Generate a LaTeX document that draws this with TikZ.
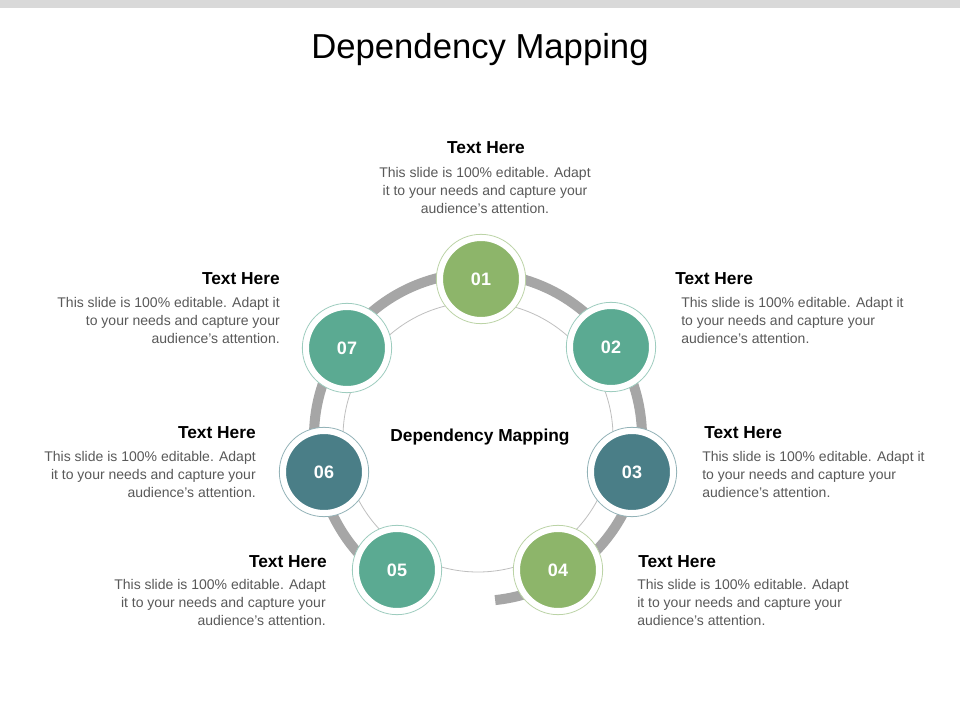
\documentclass[tikz,border=0pt]{standalone}
\usepackage{fontspec}
\setmainfont{Liberation Sans}
\usetikzlibrary{arrows.meta}
\definecolor{cg}{HTML}{8DB56A}
\definecolor{ct}{HTML}{5BAA92}
\definecolor{cd}{HTML}{4A7E87}
\definecolor{ring}{HTML}{A6A6A6}
\definecolor{bodyc}{HTML}{595959}
\tikzset{
 x=0.75pt,y=-0.75pt,
 num/.style={circle,minimum size=60pt,fill=#1,draw=white,line width=3pt,text=white,font=\bfseries\fontsize{13.5}{15}\selectfont},
 halo/.style={circle,minimum size=67pt,draw=#1,line width=0.6pt,fill=white},
 head/.style={font=\bfseries\fontsize{13}{15}\selectfont,inner sep=0pt},
 body/.style={font=\fontsize{10.5}{13.5}\selectfont,text=bodyc,inner sep=0pt}
}
\begin{document}
\begin{tikzpicture}
\fill[white] (0,0) rectangle (960,720);
\fill[black!15] (0,0) rectangle (960,8);
\node[font=\fontsize{26}{30}\selectfont,inner sep=0pt] (title) at (480,50) {Dependency Mapping};
\coordinate (c) at (478,437);
% thin inner circle
\draw[black!25,line width=0.6pt] (c) circle[radius=135];
% ring arrow
\draw[ring,line width=7.5pt,-{Triangle[length=20pt,width=24pt]}] (c) ++(84:164) arc[start angle=84,end angle=-243,radius=164];
\node[font=\bfseries\fontsize{13}{15}\selectfont] (center) at (480,437) {Dependency Mapping};
% circles
\foreach \n/\x/\y/\col in {01/481/279/cg,02/611/347/ct,03/632/472/cd,04/558/570/cg,05/397/570/ct,06/324/472/cd,07/347/348/ct}{
  \node[halo=\col!60] (h\n) at (\x,\y) {};
  \node[num=\col] (n\n) at (\x,\y) {\n};
}
% texts
\node[head] (t1) at (486,148) {Text Here};
\node[body,align=center,anchor=north] (b1) at (485,167) {This slide is 100\% editable. Adapt\\it to your needs and capture your\\audience's attention.};
\node[head,anchor=west] (t2) at (675,279) {Text Here};
\node[body,align=left,anchor=north west] (b2) at (681,297) {This slide is 100\% editable. Adapt it\\to your needs and capture your\\audience's attention.};
\node[head,anchor=west] (t3) at (704,433) {Text Here};
\node[body,align=left,anchor=north west] (b3) at (702,451) {This slide is 100\% editable. Adapt it\\to your needs and capture your\\audience's attention.};
\node[head,anchor=west] (t4) at (638,562) {Text Here};
\node[body,align=left,anchor=north west] (b4) at (637,579) {This slide is 100\% editable. Adapt\\it to your needs and capture your\\audience's attention.};
\node[head,anchor=east] (t5) at (327,562) {Text Here};
\node[body,align=right,anchor=north east] (b5) at (326,579) {This slide is 100\% editable. Adapt\\it to your needs and capture your\\audience's attention.};
\node[head,anchor=east] (t6) at (256,433) {Text Here};
\node[body,align=right,anchor=north east] (b6) at (256,451) {This slide is 100\% editable. Adapt\\it to your needs and capture your\\audience's attention.};
\node[head,anchor=east] (t7) at (280,279) {Text Here};
\node[body,align=right,anchor=north east] (b7) at (280,297) {This slide is 100\% editable. Adapt it\\to your needs and capture your\\audience's attention.};
\end{tikzpicture}
\end{document}
